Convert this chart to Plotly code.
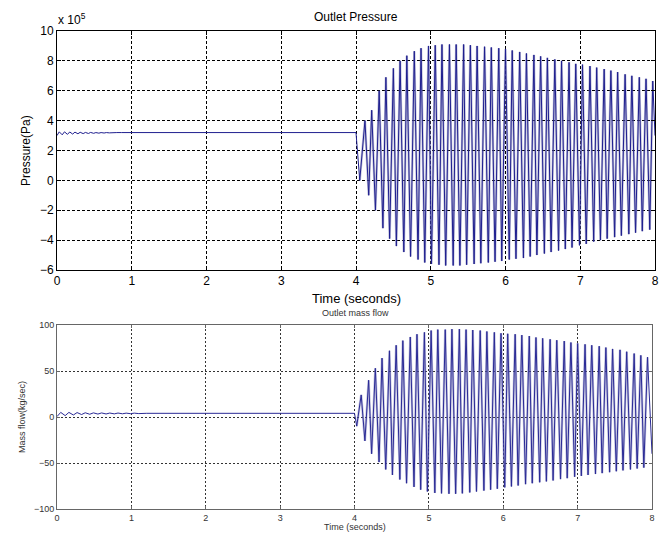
import plotly.graph_objects as go

# ---------------- data ----------------
# Outlet pressure, units of 1e5 Pa
p_pre_t = [0.00, 0.03, 0.07, 0.10, 0.14, 0.17, 0.21, 0.24, 0.28, 0.31, 0.35, 0.38, 0.42,
           0.45, 0.49, 0.52, 0.56, 0.59, 0.63, 0.66, 0.70, 0.73, 0.77, 0.80, 0.86, 4.00]
p_pre_v = [3.00, 3.25, 3.05, 3.25, 3.08, 3.24, 3.10, 3.23, 3.12, 3.22, 3.13, 3.21, 3.14,
           3.21, 3.15, 3.20, 3.16, 3.20, 3.17, 3.20, 3.18, 3.20, 3.18, 3.20, 3.20, 3.20]
p_peak_t = [4.12, 4.21, 4.31, 4.40, 4.50, 4.59, 4.68, 4.78, 4.87, 4.97, 5.06, 5.15, 5.25, 5.34,
            5.44, 5.53, 5.62, 5.72, 5.81, 5.91, 6.00, 6.09, 6.19, 6.28, 6.38, 6.47, 6.56, 6.66,
            6.75, 6.85, 6.94, 7.03, 7.13, 7.22, 7.32, 7.41, 7.50, 7.60, 7.69, 7.79, 7.88, 7.97]
p_peak_v = [4.0, 4.7, 6.0, 6.9, 7.5, 8.0, 8.35, 8.65, 8.85, 9.0, 9.05, 9.1, 9.1, 9.1,
            9.1, 9.05, 9.0, 8.95, 8.9, 8.85, 8.8, 8.7, 8.6, 8.5, 8.4, 8.3, 8.2, 8.1,
            8.0, 7.9, 7.8, 7.75, 7.65, 7.55, 7.45, 7.35, 7.25, 7.1, 7.0, 6.9, 6.8, 6.65]
p_trough_t = [4.05, 4.17, 4.26, 4.36, 4.45, 4.54, 4.64, 4.73, 4.83, 4.92, 5.01, 5.11, 5.20, 5.30,
              5.39, 5.48, 5.58, 5.67, 5.77, 5.86, 5.95, 6.05, 6.14, 6.24, 6.33, 6.42, 6.52, 6.61,
              6.71, 6.80, 6.89, 6.99, 7.08, 7.18, 7.27, 7.36, 7.46, 7.55, 7.65, 7.74, 7.83, 7.93]
p_trough_v = [0.0, -1.0, -2.0, -3.2, -3.9, -4.4, -4.8, -5.1, -5.3, -5.5, -5.6, -5.65, -5.7, -5.7,
              -5.7, -5.65, -5.6, -5.55, -5.5, -5.45, -5.4, -5.3, -5.25, -5.2, -5.1, -5.0, -4.9, -4.8,
              -4.7, -4.6, -4.5, -4.35, -4.25, -4.1, -4.0, -3.9, -3.8, -3.7, -3.6, -3.5, -3.4, -3.3]
p_end_t = [8.00]
p_end_v = [3.0]

# Outlet mass flow, kg/sec
m_pre_t = [0.00, 0.05, 0.11, 0.16, 0.22, 0.27, 0.33, 0.38, 0.44, 0.49, 0.55, 0.60, 0.66,
           0.71, 0.77, 0.82, 0.88, 0.93, 0.99, 1.04, 1.10, 1.15, 1.20, 4.00]
m_pre_v = [0.5, 5.0, 1.5, 5.0, 2.2, 4.8, 2.7, 4.6, 3.0, 4.5, 3.2, 4.4, 3.3,
           4.3, 3.4, 4.3, 3.5, 4.2, 3.6, 4.2, 3.7, 4.1, 4.0, 4.0]
m_peak_t = [4.09, 4.19, 4.28, 4.37, 4.47, 4.56, 4.65, 4.75, 4.84, 4.94, 5.03, 5.12, 5.22, 5.31,
            5.41, 5.50, 5.59, 5.69, 5.78, 5.88, 5.97, 6.06, 6.16, 6.25, 6.35, 6.44, 6.53, 6.63,
            6.72, 6.82, 6.91, 7.00, 7.10, 7.19, 7.29, 7.38, 7.47, 7.57, 7.66, 7.76, 7.85, 7.94]
m_peak_v = [24, 40, 53, 64, 72, 78, 83, 87, 90, 92, 94, 95, 95, 95.5,
            95.5, 95, 94.5, 94, 93, 92, 91, 90.5, 90, 89, 88, 86.5, 85.5, 84.5,
            83.5, 82.5, 81, 80, 79, 78, 77, 75.5, 74, 73, 71, 69, 67, 65]
m_trough_t = [4.03, 4.14, 4.23, 4.33, 4.42, 4.51, 4.61, 4.70, 4.80, 4.89, 4.98, 5.08, 5.17, 5.27,
              5.36, 5.45, 5.55, 5.64, 5.74, 5.83, 5.92, 6.02, 6.11, 6.20, 6.30, 6.39, 6.49, 6.58,
              6.67, 6.77, 6.86, 6.96, 7.05, 7.14, 7.24, 7.33, 7.43, 7.52, 7.61, 7.71, 7.80, 7.89]
m_trough_v = [-10, -26, -40, -49, -57, -63, -68, -72, -76, -79, -81, -82.5, -83, -83.5,
              -83.5, -83, -82, -81, -80, -79, -78, -76.5, -75.5, -74.5, -73, -72, -71, -70,
              -69, -67.5, -66.5, -65, -64, -63, -62, -61, -60, -59, -58, -57, -56, -55]
m_end_t = [8.00]
m_end_v = [-40]

x_ticks = [0, 1, 2, 3, 4, 5, 6, 7, 8]
p_ticks = [-6, -4, -2, 0, 2, 4, 6, 8, 10]
m_ticks = [-100, -50, 0, 50, 100]


def merge(*pairs):
    pts = []
    for ts, vs in pairs:
        pts.extend(zip(ts, vs))
    pts.sort(key=lambda p: p[0])
    return [p[0] for p in pts], [p[1] for p in pts]


p_t, p_v = merge((p_pre_t, p_pre_v), (p_peak_t, p_peak_v), (p_trough_t, p_trough_v), (p_end_t, p_end_v))
m_t, m_v = merge((m_pre_t, m_pre_v), (m_peak_t, m_peak_v), (m_trough_t, m_trough_v), (m_end_t, m_end_v))
p_ot, p_ov = merge((p_peak_t, p_peak_v), (p_trough_t, p_trough_v))
m_ot, m_ov = merge((m_peak_t, m_peak_v), (m_trough_t, m_trough_v))

W, H = 668, 536
FONT = "Liberation Sans, Arial, sans-serif"


def px_x(a, b):
    return [a / W, b / W]


def px_y(top, bottom):
    return [1 - bottom / H, 1 - top / H]


def ann(text, x, y, size, color="black", angle=0, xanchor="center"):
    return dict(text=text, x=x / W, y=1 - y / H, xref="paper", yref="paper", showarrow=False,
                font=dict(size=size, color=color, family=FONT), textangle=angle,
                xanchor=xanchor, yanchor="middle")


fig = go.Figure()
# soft halo over the oscillating part + main line
fig.add_trace(go.Scatter(x=p_ot, y=p_ov, mode="lines", xaxis="x", yaxis="y",
                         line=dict(color="rgba(120,120,175,0.45)", width=2.4), hoverinfo="skip"))
fig.add_trace(go.Scatter(x=p_t, y=p_v, mode="lines", xaxis="x", yaxis="y",
                         line=dict(color="#1f1f8f", width=1)))
fig.add_trace(go.Scatter(x=m_ot, y=m_ov, mode="lines", xaxis="x2", yaxis="y2",
                         line=dict(color="rgba(125,125,185,0.45)", width=2.4), hoverinfo="skip"))
fig.add_trace(go.Scatter(x=m_t, y=m_v, mode="lines", xaxis="x2", yaxis="y2",
                         line=dict(color="#2a2a96", width=1)))

common = dict(automargin=False, zeroline=False, showgrid=True, gridwidth=1, showline=True,
              linewidth=1, mirror="ticks", ticks="inside")

fig.update_layout(
    template="none",
    width=W, height=H, autosize=False,
    margin=dict(l=0, r=0, t=0, b=0, pad=0),
    paper_bgcolor="white", plot_bgcolor="white",
    showlegend=False,
    font=dict(family=FONT, color="black"),
    xaxis=dict(domain=px_x(57, 655), anchor="y", range=[0, 8], tickvals=x_ticks,
               gridcolor="black", griddash="3px,2px", linecolor="black",
               ticklen=4, tickcolor="black", tickfont=dict(size=12, color="black"), **common),
    yaxis=dict(domain=px_y(31, 270), anchor="x", range=[-6, 10], tickvals=p_ticks,
               gridcolor="black", griddash="3px,2px", linecolor="black",
               ticklen=4, tickcolor="black", tickfont=dict(size=12, color="black"), **common),
    xaxis2=dict(domain=px_x(57, 652), anchor="y2", range=[0, 8], tickvals=x_ticks,
                gridcolor="#333", griddash="2px,2px", linecolor="#666",
                ticklen=3, tickcolor="#666", tickfont=dict(size=9, color="#333"), **common),
    yaxis2=dict(domain=px_y(325, 509), anchor="x2", range=[-100, 100], tickvals=m_ticks,
                gridcolor="#333", griddash="2px,2px", linecolor="#666",
                ticklen=3, tickcolor="#666", tickfont=dict(size=9, color="#333"), **common),
    annotations=[
        ann("Outlet Pressure", 356, 17, 12),
        ann("x 10<sup>5</sup>", 56, 19, 12, xanchor="left"),
        ann("Time (seconds)", 356, 298, 13),
        ann("Pressure(Pa)", 26, 151, 12, angle=-90),
        ann("Outlet mass flow", 355, 313, 9, color="#333"),
        ann("Time (seconds)", 355, 527, 9, color="#333"),
        ann("Mass flow(kg/sec)", 22, 417, 9, color="#333", angle=-90),
    ],
)

fig.write_html(
    "out.html",
    config={"displayModeBar": False},
    post_script="document.body.style.margin='0';document.body.style.padding='0';"
                "document.body.style.overflow='hidden';",
)
